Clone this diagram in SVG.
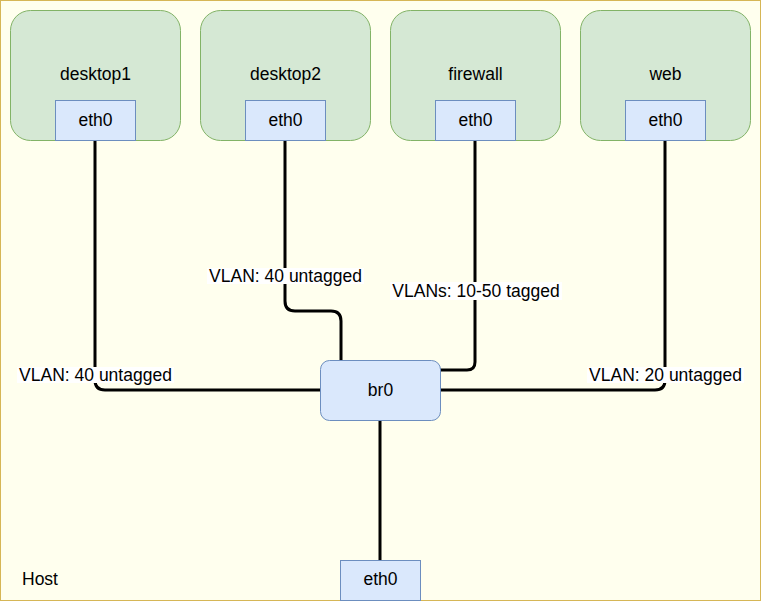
<svg xmlns="http://www.w3.org/2000/svg" width="761" height="601" viewBox="0 0 761 601">
<style>
text{font-family:"Liberation Sans",Arial,sans-serif;font-size:17.5px;fill:#000;text-anchor:middle}
.vm{fill:#d5e8d4;stroke:#82b366;stroke-width:1}
.if{fill:#dae8fc;stroke:#6c8ebf;stroke-width:1}
.conn{fill:none;stroke:#000;stroke-width:3}
.lbg{fill:#fff}
</style>
<rect x="0.5" y="0.5" width="760" height="600" fill="#ffffee" stroke="#d6b656"/>
<text x="22" y="585" style="text-anchor:start">Host</text>
<g id="connectors">
<path class="conn" d="M95 140 V380 Q95 390 105 390 H320"/>
<path class="conn" d="M285 140 V301 Q285 311 295 311 H331 Q341 311 341 321 V360"/>
<path class="conn" d="M475 140 V362 Q475 370 467 370 H440"/>
<path class="conn" d="M665 140 V380 Q665 390 655 390 H440"/>
<path class="conn" d="M380 420 V560"/>
<g id="labels">
<rect class="lbg" x="17" y="367" width="157" height="16"/>
<text x="95.5" y="381">VLAN: 40 untagged</text>
<rect class="lbg" x="207" y="268" width="157" height="16"/>
<text x="285.5" y="282">VLAN: 40 untagged</text>
<rect class="lbg" x="390" y="282" width="172" height="18"/>
<text x="476" y="297">VLANs: 10-50 tagged</text>
<rect class="lbg" x="587" y="367" width="157" height="16"/>
<text x="665.5" y="381">VLAN: 20 untagged</text>
</g>
</g>
<g id="desktop1">
<rect class="vm" x="10.5" y="10.5" width="170" height="130" rx="20"/>
<text x="95.5" y="80">desktop1</text>
<rect class="if" x="55.5" y="100.5" width="80" height="40"/>
<text x="95.5" y="126">eth0</text>
</g>
<g id="desktop2">
<rect class="vm" x="200.5" y="10.5" width="170" height="130" rx="20"/>
<text x="285.5" y="80">desktop2</text>
<rect class="if" x="245.5" y="100.5" width="80" height="40"/>
<text x="285.5" y="126">eth0</text>
</g>
<g id="firewall">
<rect class="vm" x="390.5" y="10.5" width="170" height="130" rx="20"/>
<text x="475.5" y="80">firewall</text>
<rect class="if" x="435.5" y="100.5" width="80" height="40"/>
<text x="475.5" y="126">eth0</text>
</g>
<g id="web">
<rect class="vm" x="580.5" y="10.5" width="170" height="130" rx="20"/>
<text x="665.5" y="80">web</text>
<rect class="if" x="625.5" y="100.5" width="80" height="40"/>
<text x="665.5" y="126">eth0</text>
</g>
<g id="br0">
<rect class="if" x="320.5" y="360.5" width="120" height="60" rx="9"/>
<text x="380.5" y="396">br0</text>
</g>
<g id="host-eth0">
<rect class="if" x="340.5" y="560.5" width="80" height="40"/>
<text x="380.5" y="585">eth0</text>
</g>
</svg>
